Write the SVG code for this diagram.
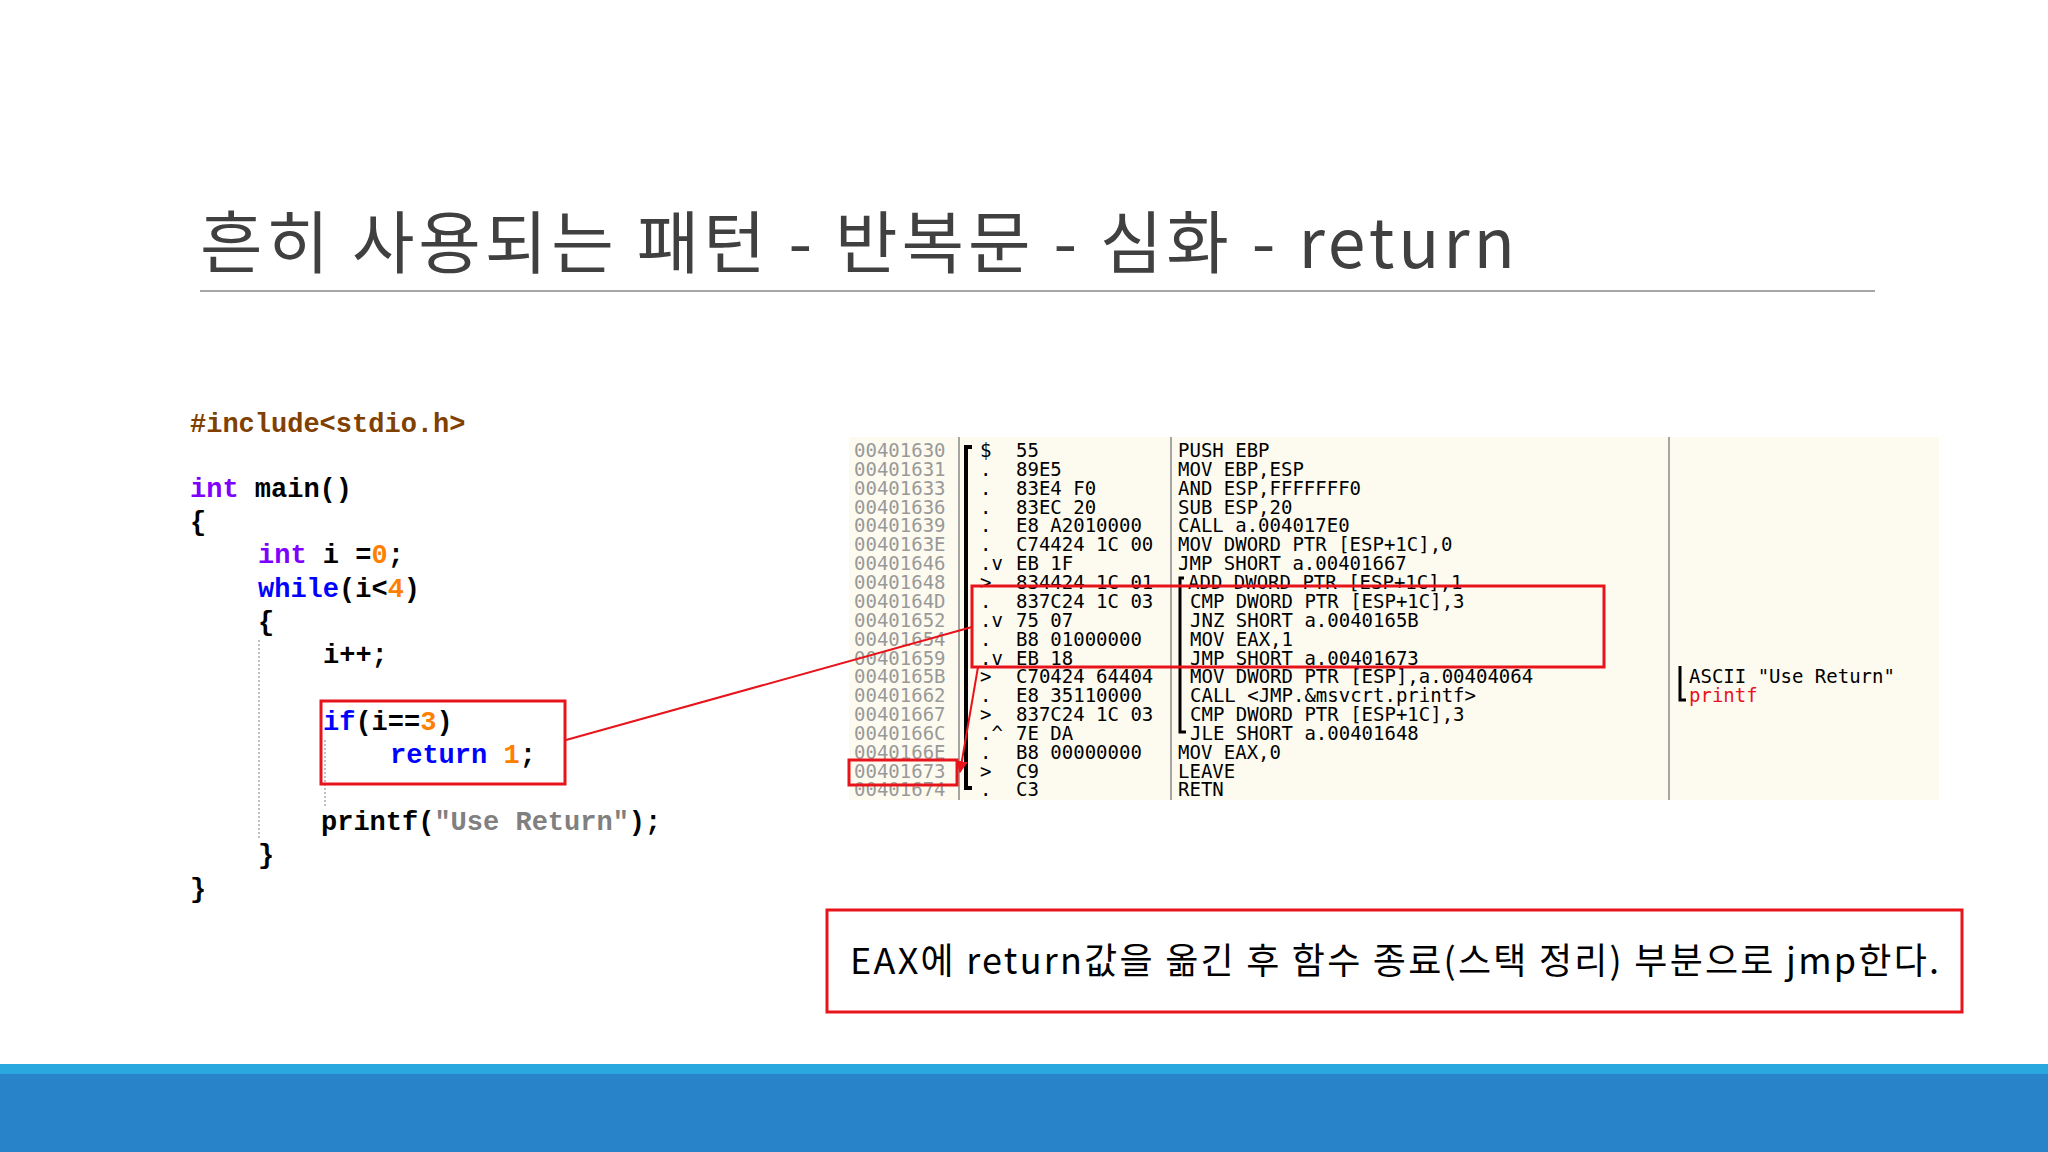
<svg xmlns="http://www.w3.org/2000/svg" width="2048" height="1152" viewBox="0 0 2048 1152">
<style>
.code{font-family:"Liberation Mono",monospace;font-size:27px;font-weight:bold;fill:#000}
.kw{fill:#0000ff}.ty{fill:#8000ff}.num{fill:#ff8000}.str{fill:#808080}.pp{fill:#804000}
.dis{font-family:"DejaVu Sans Mono","Liberation Mono",monospace;font-size:19px;fill:#000}
.addr{fill:#999}
.red{fill:none;stroke:#e8141c;stroke-width:3}
</style>
<defs><marker id="ah" viewBox="0 0 10 10" refX="9" refY="5" markerWidth="6" markerHeight="6" orient="auto"><path d="M0,0L10,5L0,10z" fill="#e8141c"/></marker></defs>
<rect width="2048" height="1152" fill="#fff"/>
<text x="200" y="268" font-family="'Noto Sans CJK KR','Noto Sans',sans-serif" font-size="68" fill="#404040" textLength="1315">흔히 사용되는 패턴 - 반복문 - 심화 - return</text>
<line x1="200" y1="291" x2="1875" y2="291" stroke="#a6a6a6" stroke-width="2"/>
<g id="code">
<text class="code pp" x="190" y="432">#include&lt;stdio.h&gt;</text>
<text class="code" x="190" y="497"><tspan class="ty">int</tspan> main()</text>
<text class="code" x="190" y="530">{</text>
<text class="code" x="258" y="563"><tspan class="ty">int</tspan> i =<tspan class="num">0</tspan>;</text>
<text class="code" x="258" y="597"><tspan class="kw">while</tspan>(i&lt;<tspan class="num">4</tspan>)</text>
<text class="code" x="258" y="630">{</text>
<text class="code" x="323" y="663">i++;</text>
<text class="code" x="323" y="730"><tspan class="kw">if</tspan>(i==<tspan class="num">3</tspan>)</text>
<text class="code" x="390" y="763"><tspan class="kw">return</tspan> <tspan class="num">1</tspan>;</text>
<text class="code" x="321" y="830">printf(<tspan class="str">"Use Return"</tspan>);</text>
<text class="code" x="258" y="863">}</text>
<text class="code" x="190" y="897">}</text>
<line x1="259" y1="640" x2="259" y2="840" stroke="#aaa" stroke-width="1.5" stroke-dasharray="2,2"/>
<line x1="325" y1="740" x2="325" y2="808" stroke="#aaa" stroke-width="1.5" stroke-dasharray="2,2"/>
</g>
<g id="disasm">
<rect x="849" y="437" width="1090" height="363" fill="#fdfbf0"/>
<line x1="959" y1="437" x2="959" y2="800" stroke="#888" stroke-width="1.5"/>
<line x1="1171" y1="437" x2="1171" y2="800" stroke="#888" stroke-width="1.5"/>
<line x1="1669" y1="437" x2="1669" y2="800" stroke="#888" stroke-width="1.5"/>
<path d="M972,447 H966 V788 H972" fill="none" stroke="#000" stroke-width="4"/>
<path d="M1184,578 H1180 V732 H1186" fill="none" stroke="#000" stroke-width="3"/>
<path d="M1680,666 V700 H1686" fill="none" stroke="#000" stroke-width="3"/>
<g class="dis">
<text class="addr" x="854" y="457">00401630</text><text x="980" y="457">$</text><text x="1016" y="457">55</text><text x="1178" y="457">PUSH EBP</text>
<text class="addr" x="854" y="476">00401631</text><text x="980" y="476">.</text><text x="1016" y="476">89E5</text><text x="1178" y="476">MOV EBP,ESP</text>
<text class="addr" x="854" y="495">00401633</text><text x="980" y="495">.</text><text x="1016" y="495">83E4 F0</text><text x="1178" y="495">AND ESP,FFFFFFF0</text>
<text class="addr" x="854" y="514">00401636</text><text x="980" y="514">.</text><text x="1016" y="514">83EC 20</text><text x="1178" y="514">SUB ESP,20</text>
<text class="addr" x="854" y="532">00401639</text><text x="980" y="532">.</text><text x="1016" y="532">E8 A2010000</text><text x="1178" y="532">CALL a.004017E0</text>
<text class="addr" x="854" y="551">0040163E</text><text x="980" y="551">.</text><text x="1016" y="551">C74424 1C 00</text><text x="1178" y="551">MOV DWORD PTR [ESP+1C],0</text>
<text class="addr" x="854" y="570">00401646</text><text x="980" y="570">.v</text><text x="1016" y="570">EB 1F</text><text x="1178" y="570">JMP SHORT a.00401667</text>
<text class="addr" x="854" y="589">00401648</text><text x="980" y="589">&gt;</text><text x="1016" y="589">834424 1C 01</text><text x="1188" y="589">ADD DWORD PTR [ESP+1C],1</text>
<text class="addr" x="854" y="608">0040164D</text><text x="980" y="608">.</text><text x="1016" y="608">837C24 1C 03</text><text x="1190" y="608">CMP DWORD PTR [ESP+1C],3</text>
<text class="addr" x="854" y="627">00401652</text><text x="980" y="627">.v</text><text x="1016" y="627">75 07</text><text x="1190" y="627">JNZ SHORT a.0040165B</text>
<text class="addr" x="854" y="646">00401654</text><text x="980" y="646">.</text><text x="1016" y="646">B8 01000000</text><text x="1190" y="646">MOV EAX,1</text>
<text class="addr" x="854" y="665">00401659</text><text x="980" y="665">.v</text><text x="1016" y="665">EB 18</text><text x="1190" y="665">JMP SHORT a.00401673</text>
<text class="addr" x="854" y="683">0040165B</text><text x="980" y="683">&gt;</text><text x="1016" y="683">C70424 64404</text><text x="1190" y="683">MOV DWORD PTR [ESP],a.00404064</text><text x="1689" y="683">ASCII "Use Return"</text>
<text class="addr" x="854" y="702">00401662</text><text x="980" y="702">.</text><text x="1016" y="702">E8 35110000</text><text x="1190" y="702">CALL &lt;JMP.&amp;msvcrt.printf&gt;</text><text x="1689" y="702" fill="#e8141c">printf</text>
<text class="addr" x="854" y="721">00401667</text><text x="980" y="721">&gt;</text><text x="1016" y="721">837C24 1C 03</text><text x="1190" y="721">CMP DWORD PTR [ESP+1C],3</text>
<text class="addr" x="854" y="740">0040166C</text><text x="980" y="740">.^</text><text x="1016" y="740">7E DA</text><text x="1190" y="740">JLE SHORT a.00401648</text>
<text class="addr" x="854" y="759">0040166E</text><text x="980" y="759">.</text><text x="1016" y="759">B8 00000000</text><text x="1178" y="759">MOV EAX,0</text>
<text class="addr" x="854" y="778">00401673</text><text x="980" y="778">&gt;</text><text x="1016" y="778">C9</text><text x="1178" y="778">LEAVE</text>
<text class="addr" x="854" y="796">00401674</text><text x="980" y="796">.</text><text x="1016" y="796">C3</text><text x="1178" y="796">RETN</text>
</g>
</g>
<g id="highlights">
<rect class="red" x="321" y="701" width="244" height="83"/>
<rect class="red" x="972" y="586" width="632" height="81"/>
<rect class="red" x="849" y="760" width="108" height="25"/>
</g>
<g id="connectors">
<line x1="566" y1="740" x2="972" y2="627" stroke="#e8141c" stroke-width="2"/>
<line x1="978" y1="667" x2="960" y2="772" stroke="#e8141c" stroke-width="2" marker-end="url(#ah)"/>
</g>
<g id="note">
<rect class="red" x="827" y="910" width="1135" height="102"/>
<text x="850" y="974" font-family="'Noto Sans CJK KR','Noto Sans',sans-serif" font-size="36" fill="#000" textLength="1089">EAX에 return값을 옮긴 후 함수 종료(스택 정리) 부분으로 jmp한다.</text>
</g>
<rect x="0" y="1064" width="2048" height="10" fill="#29a8e0"/>
<rect x="0" y="1074" width="2048" height="78" fill="#2883c8"/>
</svg>
